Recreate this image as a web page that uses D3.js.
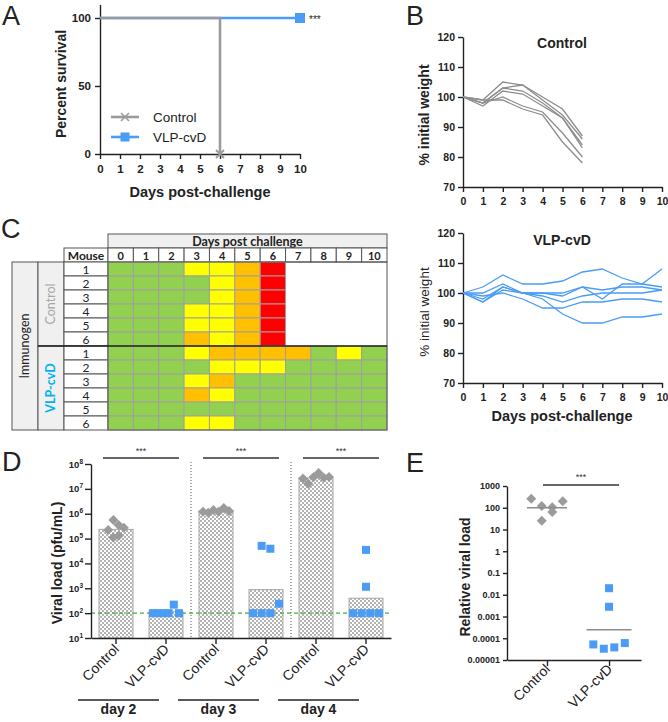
<!DOCTYPE html>
<html><head><meta charset="utf-8">
<script src="https://cdn.jsdelivr.net/npm/d3@7"></script>
<style>body{margin:0;background:#fff}svg{display:block}</style>
</head><body>
<svg id="chart" width="668" height="722"></svg>
<script>
// ---------------- DATA ----------------
// A: survival
const survivalDays = [0,1,2,3,4,5,6,7,8,9,10];
const survivalTicks = [0,50,100];
const survTimesControl = [0,6];
const survControl = [100,0];
const survTimesVLP = [0,10];
const survVLP = [100,100];
const survGroups = ["Control","VLP-cvD"];

// B: weights (% initial)
const weightDays = [0,1,2,3,4,5,6,7,8,9,10];
const weightTicks = [70,80,90,100,110,120];
const weightControl = [
  [100,99,105,104,100,96,87],
  [100,98,103,104,99,94,86],
  [100,98,103,102,98,93,84],
  [100,97,102,101,97,93,83],
  [100,98,100,97,95,88,80],
  [100,99,99,96,94,85,78]
];
const weightVLP = [
  [100,102,106,103,103,104,107,108,105,103,102],
  [100,97,102,100,100,100,102,98,103,103,108],
  [100,100,103,100,99,97,99,100,100,100,101],
  [100,97,101,100,100,99,102,101,102,102,101],
  [100,99,100,98,95,95,97,97,98,98,97],
  [100,98,102,100,98,93,90,90,92,92,93]
];

// C: clinical score heatmap (G green, Y yellow, O orange, R red, - none)
const heatDays = [0,1,2,3,4,5,6,7,8,9,10];
const mouseIds = [1,2,3,4,5,6];
const scoreControl = ["GGGYYOR----","GGGGYOR----","GGGGYOR----","GGGYYOR----","GGGYYOR----","GGGOYOR----"];
const scoreVLP = ["GGGYOOOOGYG","GGGGYYYGGGG","GGGYOGGGGGG","GGGOYGGGGGG","GGGGGGGGGGG","GGGYYGGGGGG"];
const scoreColors = {G:"#92d050", Y:"#ffff00", O:"#ffc000", R:"#ff0000"};

// D: viral load (pfu/mL)
const viralDays = ["day 2","day 3","day 4"];
const viralGroups = ["Control","VLP-cvD"];
const viralControl = [
  [2.2e5,5.6e5,1.1e5,1.3e5,3.5e5,2.7e5],
  [1.2e6,1.1e6,1.4e6,1.2e6,1.7e6,1.3e6],
  [2.6e7,1.6e7,2.9e7,4.3e7,2.8e7,3.0e7]
];
const viralVLP = [
  [100,100,100,100,220,100],
  [5.1e4,3.9e4,100,100,100,240],
  [3.5e4,1150,100,100,100,100]
];
const viralTickExp = [1,2,3,4,5,6,7,8];
const detectionLimit = 100;

// E: relative viral load
const relGroups = ["Control","VLP-cvD"];
const relControl = [260,120,105,200,25,63];
const relVLP = [0.02,0.0028,5.2e-5,3.3e-5,3.8e-5,6e-5];
const relTicks = [1000,100,10,1,0.1,0.01,0.001,0.0001,0.00001];
const relTickLabels = ["1000","100","10","1","0.1","0.01","0.001","0.0001","0.00001"];

// ---------------- STYLE ----------------
const FONT = "'Liberation Sans', Arial, sans-serif";
const CFONT = "Lato, 'Open Sans', sans-serif";
const INK = "#222";
const GRAY = "#9b9b9b";
const LGRAY = "#8c8c8c";
const BLUE = "#4a9cf6";

const svg = d3.select("#chart");
const defs = svg.append("defs");
const pat = defs.append("pattern").attr("id","checker").attr("width",4).attr("height",4).attr("patternUnits","userSpaceOnUse");
pat.append("rect").attr("width",4).attr("height",4).attr("fill","#fff");
pat.append("rect").attr("width",2).attr("height",2).attr("fill","#b3b3b3");
pat.append("rect").attr("x",2).attr("y",2).attr("width",2).attr("height",2).attr("fill","#b3b3b3");

function styleAxis(g, fs, bold) {
  g.select(".domain").attr("stroke", INK).attr("stroke-width", 1.4);
  g.selectAll(".tick line").attr("stroke", INK).attr("stroke-width", 1.4);
  g.selectAll(".tick text").attr("font-family", FONT).attr("font-size", fs)
    .attr("font-weight", bold ? "bold" : "normal").attr("fill", INK);
}
function txt(g, x, y, s, o) {
  o = o || {};
  const t = g.append("text").attr("x", x).attr("y", y).text(s)
    .attr("font-family", o.family || FONT).attr("font-size", o.size || 14)
    .attr("font-weight", o.weight || "normal").attr("fill", o.fill || INK)
    .attr("text-anchor", o.anchor || "start");
  if (o.rotate !== undefined) t.attr("transform", `rotate(${o.rotate},${x},${y})`);
  return t;
}
function diamond(g, x, y, r, fill) {
  g.append("path").attr("d", `M${x},${y-r}L${x+r},${y}L${x},${y+r}L${x-r},${y}Z`).attr("fill", fill);
}
function square(g, x, y, s, fill) {
  g.append("rect").attr("x", x - s/2).attr("y", y - s/2).attr("width", s).attr("height", s).attr("fill", fill);
}
function swarm(values, yScale, base, maxSpan, thresh) {
  const pts = values.map((v,i) => ({v, i, y: yScale(v)}));
  const sorted = pts.slice().sort((a,b) => a.y - b.y);
  const bins = [];
  sorted.forEach(p => {
    const b = bins[bins.length-1];
    if (b && p.y - b[0].y < thresh) b.push(p); else bins.push([p]);
  });
  const off = new Array(values.length);
  bins.forEach(b => {
    b.sort((a,c) => a.i - c.i);
    const m = b.length, sp = m > 1 ? Math.min(base, maxSpan/(m-1)) : 0;
    b.forEach((p,k) => off[p.i] = (k - (m-1)/2) * sp);
  });
  return off;
}
const geoMean = arr => Math.pow(10, d3.mean(arr, v => Math.log10(v)));

// Panel letters
[["A",2,25],["B",406,25],["C",1,238],["D",2,471],["E",406,472]].forEach(([l,x,y]) =>
  txt(svg, x, y, l, {size: 27}));

// ---------------- PANEL A ----------------
{
  const g = svg.append("g");
  const ax = d3.scaleLinear().domain([0,10]).range([100,300]);
  const ay = d3.scaleLinear().domain([0,110]).range([154,4.4]);
  g.append("g").attr("transform","translate(0,154)")
    .call(d3.axisBottom(ax).tickValues(survivalDays).tickSize(5).tickSizeOuter(0).tickPadding(6))
    .call(a => styleAxis(a, 11.5, true));
  g.append("g").attr("transform","translate(100,0)")
    .call(d3.axisLeft(ay).tickValues(survivalTicks).tickSize(5).tickSizeOuter(0).tickPadding(4))
    .call(a => styleAxis(a, 11.5, true));
  const step = d3.line().curve(d3.curveStepAfter);
  g.append("path").attr("d", step(survTimesVLP.map((t,i) => [ax(t), ay(survVLP[i])])))
    .attr("fill","none").attr("stroke",BLUE).attr("stroke-width",2.6);
  g.append("path").attr("d", step(survTimesControl.map((t,i) => [ax(t), ay(survControl[i])])))
    .attr("fill","none").attr("stroke",GRAY).attr("stroke-width",2.6);
  // end markers
  const cx = ax(survTimesControl[1]), cy = ay(survControl[1]);
  g.append("path").attr("d",`M${cx-4},${cy-4}L${cx+4},${cy+4}M${cx-4},${cy+4}L${cx+4},${cy-4}`)
    .attr("stroke",GRAY).attr("stroke-width",1.8);
  square(g, ax(survTimesVLP[1]), ay(survVLP[1]), 10, BLUE);
  txt(g, 309, 23, "***", {size: 10});
  // legend
  const lg = [[GRAY, 117], [BLUE, 137]];
  lg.forEach(([c,y],i) => {
    g.append("line").attr("x1",111).attr("x2",139).attr("y1",y).attr("y2",y).attr("stroke",c).attr("stroke-width",2.6);
    if (i === 0) g.append("path").attr("d",`M121,${y-4}L129,${y+4}M121,${y+4}L129,${y-4}`).attr("stroke",c).attr("stroke-width",1.6);
    else square(g, 125, y, 9, c);
    txt(g, 153, y + 5, survGroups[i], {size: 13.5});
  });
  txt(g, 66, 84, "Percent survival", {size: 14, weight: "bold", anchor: "middle", rotate: -90});
  txt(g, 200, 197, "Days post-challenge", {size: 14.5, weight: "bold", anchor: "middle"});
}

// ---------------- PANEL B ----------------
function weightPanel(top, bottom, data, color, title, titleY, labelBold, labelY) {
  const g = svg.append("g");
  const bx = d3.scaleLinear().domain([0,10]).range([463,662]);
  const by = d3.scaleLinear().domain([70,120]).range([bottom, top]);
  g.append("g").attr("transform",`translate(0,${bottom})`)
    .call(d3.axisBottom(bx).tickValues(weightDays).tickSize(5).tickSizeOuter(0).tickPadding(6))
    .call(a => styleAxis(a, 10.5, true));
  g.append("g").attr("transform","translate(463,0)")
    .call(d3.axisLeft(by).tickValues(weightTicks).tickSize(5).tickSizeOuter(0).tickPadding(3))
    .call(a => styleAxis(a, 10.5, true));
  const line = d3.line().x((d,i) => bx(weightDays[i])).y(d => by(d));
  data.forEach(s => g.append("path").attr("d", line(s)).attr("fill","none")
    .attr("stroke", color).attr("stroke-width", 1.3));
  txt(g, 562, titleY, title, {size: 14, weight: "bold", anchor: "middle"});
  txt(g, 429, labelY, "% initial weight", {size: labelBold ? 14 : 13.5, weight: labelBold ? "bold" : "normal", anchor: "middle", rotate: -90});
}
weightPanel(37, 187, weightControl, LGRAY, "Control", 48, true, 115);
weightPanel(233, 383, weightVLP, BLUE, "VLP-cvD", 245, false, 312);
txt(svg, 562, 421, "Days post-challenge", {size: 14.5, weight: "bold", anchor: "middle"});

// ---------------- PANEL C ----------------
{
  const g = svg.append("g");
  const hx = d3.scaleBand().domain(heatDays).range([108, 387]);
  const rowKeys = ["C","V"].flatMap(k => mouseIds.map(m => k + m));
  const hy = d3.scaleBand().domain(rowKeys).range([262, 430]);
  const BORD = "#555";
  // header
  g.append("rect").attr("x",108).attr("y",234).attr("width",279).attr("height",14).attr("fill","#f0f0f0").attr("stroke",BORD);
  txt(g, 247.5, 246, "Days post challenge", {family: CFONT, size: 12.5, weight: "bold", anchor: "middle"});
  g.append("rect").attr("x",64).attr("y",248).attr("width",44).attr("height",14).attr("fill","#fff").attr("stroke",BORD);
  txt(g, 86, 259.5, "Mouse", {family: CFONT, size: 12, weight: "bold", anchor: "middle"});
  heatDays.forEach(d => {
    g.append("rect").attr("x",hx(d)).attr("y",248).attr("width",hx.bandwidth()).attr("height",14).attr("fill","#fff").attr("stroke",BORD);
    txt(g, hx(d) + hx.bandwidth()/2, 259.5, String(d), {family: CFONT, size: 11, weight: "bold", anchor: "middle"});
  });
  // left labels
  g.append("rect").attr("x",12).attr("y",262).attr("width",26).attr("height",168).attr("fill","#f0f0f0").attr("stroke",BORD);
  txt(g, 29, 346, "Immunogen", {family: CFONT, size: 12.5, anchor: "middle", rotate: -90});
  g.append("rect").attr("x",38).attr("y",262).attr("width",26).attr("height",84).attr("fill","#f0f0f0").attr("stroke",BORD);
  g.append("rect").attr("x",38).attr("y",346).attr("width",26).attr("height",84).attr("fill","#f0f0f0").attr("stroke",BORD);
  txt(g, 55, 304, "Control", {family: CFONT, size: 12.5, anchor: "middle", rotate: -90, fill: "#a6a6a6"});
  txt(g, 55, 388, "VLP-cvD", {family: CFONT, size: 12.5, weight: "bold", anchor: "middle", rotate: -90, fill: "#00b0f0"});
  // rows
  [["C", scoreControl], ["V", scoreVLP]].forEach(([k, scores]) => {
    scores.forEach((row, ri) => {
      const key = k + mouseIds[ri];
      g.append("rect").attr("x",64).attr("y",hy(key)).attr("width",44).attr("height",hy.bandwidth()).attr("fill","#fff").attr("stroke",BORD);
      txt(g, 86, hy(key) + 11.5, String(mouseIds[ri]), {family: CFONT, size: 12, anchor: "middle"});
      row.split("").forEach((s, di) => {
        if (!scoreColors[s]) return;
        g.append("rect").attr("x",hx(heatDays[di])).attr("y",hy(key)).attr("width",hx.bandwidth()).attr("height",hy.bandwidth())
          .attr("fill",scoreColors[s]).attr("stroke","#a0a0a0").attr("stroke-width",1);
      });
    });
  });
  g.append("rect").attr("x",108).attr("y",262).attr("width",279).attr("height",168).attr("fill","none").attr("stroke",BORD);
  g.append("line").attr("x1",38).attr("x2",387).attr("y1",346).attr("y2",346).attr("stroke","#222").attr("stroke-width",1.3);
}

// ---------------- PANEL D ----------------
{
  const g = svg.append("g");
  const keys = viralDays.flatMap(d => viralGroups.map(gr => d + "|" + gr));
  const dx = d3.scaleBand().domain(keys).range([91,391]).paddingInner(0.32).paddingOuter(0.16);
  const dy = d3.scaleLog().domain([10, 1e8]).range([638, 464]);
  const bw = dx.bandwidth();
  const groupsData = [];
  viralDays.forEach((d,i) => {
    groupsData.push({key: d + "|Control", vals: viralControl[i], shape: "d"});
    groupsData.push({key: d + "|VLP-cvD", vals: viralVLP[i], shape: "s"});
  });
  // bars
  groupsData.forEach(gd => {
    const m = geoMean(gd.vals);
    g.append("rect").attr("x", dx(gd.key)).attr("y", dy(m)).attr("width", bw).attr("height", 638 - dy(m))
      .attr("fill","url(#checker)").attr("stroke","#a8a8a8").attr("stroke-width",1);
  });
  // detection limit
  g.append("line").attr("x1",91).attr("x2",391).attr("y1",dy(detectionLimit)).attr("y2",dy(detectionLimit))
    .attr("stroke","#3cb043").attr("stroke-width",1.2).attr("stroke-dasharray","4,3");
  // separators
  viralDays.slice(0,-1).forEach(d => {
    const x = dx(d + "|VLP-cvD") + bw + dx.step() * dx.paddingInner() / 2;
    g.append("line").attr("x1",x).attr("x2",x).attr("y1",462).attr("y2",638)
      .attr("stroke","#555").attr("stroke-width",1).attr("stroke-dasharray","1,2");
  });
  // points
  groupsData.forEach(gd => {
    const c = dx(gd.key) + bw/2;
    const off = swarm(gd.vals, dy, gd.shape === "d" ? 5.2 : 8.7, 26, 12);
    gd.vals.forEach((v,i) => {
      if (gd.shape === "d") diamond(g, c + off[i], dy(v), 5, GRAY);
      else square(g, c + off[i], dy(v), 8, BLUE);
    });
  });
  // axes
  g.append("g").attr("transform","translate(0,638)")
    .call(d3.axisBottom(dx).tickSize(6).tickSizeOuter(0).tickFormat(""))
    .call(a => styleAxis(a, 10, false));
  g.append("g").attr("transform","translate(91,0)")
    .call(d3.axisLeft(dy).tickValues(viralTickExp.map(e => Math.pow(10,e))).tickSize(6).tickSizeOuter(0).tickFormat(""))
    .call(a => styleAxis(a, 10, false));
  viralTickExp.forEach(e => {
    const t = g.append("text").attr("x", 83).attr("y", dy(Math.pow(10,e)) + 3.5).attr("text-anchor","end")
      .attr("font-family",FONT).attr("font-size",9.5).attr("font-weight","bold").attr("fill",INK);
    t.append("tspan").text("10");
    t.append("tspan").text(String(e)).attr("dy",-4).attr("font-size",6.5);
  });
  // x labels
  keys.forEach(k => {
    const c = dx(k) + bw/2;
    txt(g, c + 4, 650, k.split("|")[1], {size: 14, anchor: "end", rotate: -45});
  });
  // day groups + significance
  viralDays.forEach(d => {
    const c1 = dx(d + "|Control") + bw/2, c2 = dx(d + "|VLP-cvD") + bw/2;
    g.append("line").attr("x1", c1 - 38).attr("x2", c2 - 7).attr("y1",700).attr("y2",700).attr("stroke",INK).attr("stroke-width",1.3);
    txt(g, (c1 + c2)/2 - 22.5, 714, d, {size: 14, weight: "bold", anchor: "middle"});
    g.append("line").attr("x1", c1 - 13).attr("x2", c2 + 13).attr("y1",458).attr("y2",458).attr("stroke","#333").attr("stroke-width",1.3);
    txt(g, (c1 + c2)/2, 454, "***", {size: 9, anchor: "middle", fill: "#333"});
  });
  txt(g, 62, 563, "Viral load (pfu/mL)", {size: 14, weight: "bold", anchor: "middle", rotate: -90});
}

// ---------------- PANEL E ----------------
{
  const g = svg.append("g");
  const ex = d3.scalePoint().domain(relGroups).range([507,641]).padding(0.58).align(0.556);
  const ey = d3.scaleLog().domain([1e-5, 1e3]).range([660, 486]);
  g.append("g").attr("transform","translate(0,660)")
    .call(d3.axisBottom(ex).tickSize(6).tickSizeOuter(0).tickFormat(""))
    .call(a => styleAxis(a, 10, false));
  g.append("g").attr("transform","translate(507,0)")
    .call(d3.axisLeft(ey).tickValues(relTicks).tickSize(4).tickSizeOuter(0).tickPadding(3)
      .tickFormat((d,i) => relTickLabels[i]))
    .call(a => styleAxis(a, 9, true));
  const sets = [[relGroups[0], relControl, "d"], [relGroups[1], relVLP, "s"]];
  sets.forEach(([grp, vals, shape]) => {
    const c = ex(grp);
    const off = swarm(vals, ey, 10.5, 32, 12);
    const m = geoMean(vals);
    vals.forEach((v,i) => {
      if (shape === "d") diamond(g, c + off[i], ey(v), 5, GRAY);
      else square(g, c + off[i], ey(v), 8, BLUE);
    });
    const hw = shape === "d" ? 20 : 22.5;
    g.append("line").attr("x1", c - hw).attr("x2", c + hw).attr("y1", ey(m)).attr("y2", ey(m))
      .attr("stroke", LGRAY).attr("stroke-width", 1.5);
    txt(g, c + 4, 670, grp, {size: 14, anchor: "end", rotate: -45});
  });
  const c1 = ex(relGroups[0]), c2 = ex(relGroups[1]);
  g.append("line").attr("x1", c1 - 4).attr("x2", c2 + 10).attr("y1",485).attr("y2",485).attr("stroke","#333").attr("stroke-width",1.3);
  txt(g, (c1 + c2)/2 + 3, 480, "***", {size: 9, anchor: "middle", fill: "#333"});
  txt(g, 470, 577, "Relative viral load", {size: 14, weight: "bold", anchor: "middle", rotate: -90});
}
</script>
</body></html>
